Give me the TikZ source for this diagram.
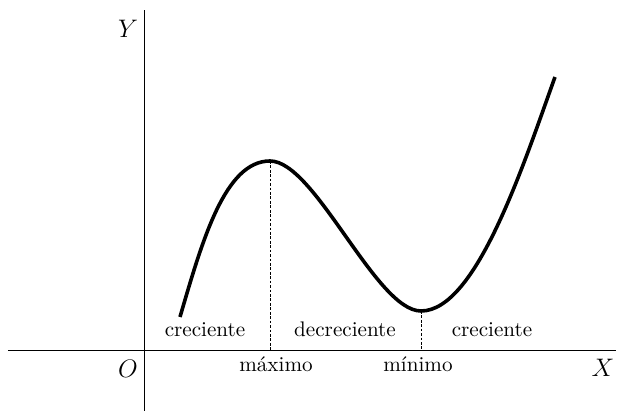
\documentclass[tikz,border=0pt]{standalone}
\begin{document}
\begin{tikzpicture}[x=0.4735pt,y=-0.4735pt,
  axisline/.style={line width=0.5pt},
  curveline/.style={line width=1.7pt},
  guide/.style={line width=0.4pt,dash pattern=on 1.3pt off 0.8pt},
  lbl/.style={anchor=base,inner sep=0pt,font=\normalsize},
  axlbl/.style={anchor=base,inner sep=0pt,font=\large}]
\useasboundingbox (0,0) rectangle (618,414);
% axes
\coordinate (xl) at (8,350.5);
\coordinate (xr) at (616,350.5);
\coordinate (yb) at (144.5,411);
\coordinate (yt) at (144.5,10);
\draw[axisline] (xl) -- (xr);
\draw[axisline] (yb) -- (yt);
% curve
\coordinate (s) at (180,317);
\coordinate (mx) at (270,161);
\coordinate (mn) at (421,311);
\coordinate (e) at (555,77);
\draw[curveline] (s) .. controls (202.4,240.2) and (225,161) .. (mx)
  .. controls (315,161) and (376,311) .. (mn)
  .. controls (476,311) and (523,166) .. (e);
% guides
\coordinate (mxa) at (mx |- xl);
\coordinate (mna) at (mn |- xl);
\draw[guide] (mx) -- (mxa);
\draw[guide] (mn) -- (mna);
% labels
\node[lbl] (c1) at (205,337) {creciente};
\node[lbl] (d1) at (345,337) {decreciente};
\node[lbl] (c2) at (492,337) {creciente};
\node[lbl] (lmax) at (276,372) {máximo};
\node[lbl] (lmin) at (418,372) {mínimo};
\node[axlbl] (O) at (128,378) {$O$};
\node[axlbl] (X) at (603,377) {$X$};
\node[axlbl] (Y) at (128,38) {$Y$};
\end{tikzpicture}
\end{document}
